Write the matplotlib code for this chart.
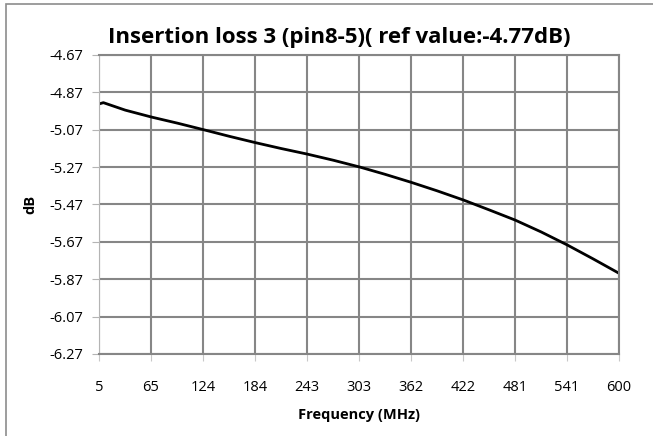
#!/usr/bin/env python3

import matplotlib
matplotlib.use("Agg")
import matplotlib.pyplot as plt
from matplotlib.patches import Rectangle


TITLE = "Insertion loss 3 (pin8-5)( ref value:-4.77dB)"

# frequency (MHz) and insertion loss (dB)
FREQ = [5, 10, 35, 65, 95, 124, 154, 184, 213, 243, 273, 303,
        332, 362, 392, 422, 451, 481, 511, 541, 570, 600]
LOSS = [-4.932, -4.925, -4.965, -5.002, -5.035, -5.069, -5.105, -5.139,
        -5.170, -5.200, -5.233, -5.269, -5.308, -5.351, -5.397, -5.446,
        -5.498, -5.553, -5.617, -5.687, -5.760, -5.838]

X_TICK_LABELS = ["5", "65", "124", "184", "243", "303", "362", "422", "481", "541", "600"]
Y_TICK_LABELS = ["-4.67", "-4.87", "-5.07", "-5.27", "-5.47", "-5.67", "-5.87", "-6.07", "-6.27"]

FONT = "Open Sans"
GRID = "#868686"


def main():
    W, H = 653, 436
    fig = plt.figure(figsize=(W / 100, H / 100), dpi=100)

    # outer chart border (only top and left edges are visible in the picture)
    fig.patches.append(Rectangle((6 / W, -0.1), 1.2, (H - 4) / H + 0.1,
                                 transform=fig.transFigure, fill=False,
                                 edgecolor="#8c8c8c", linewidth=1.2))

    ax = fig.add_axes([99 / W, (H - 354) / H, 520 / W, 299 / H])

    x_ticks = [5 + i * (600 - 5) / 10 for i in range(len(X_TICK_LABELS))]
    y_ticks = [float(v) for v in Y_TICK_LABELS]

    ax.plot(FREQ, LOSS, color="black", linewidth=2.0, solid_capstyle="butt")

    ax.set_xlim(5, 600)
    ax.set_ylim(-6.27, -4.67)
    ax.set_xticks(x_ticks)
    ax.set_xticklabels(X_TICK_LABELS, fontfamily=FONT, fontsize=10.5)
    ax.set_yticks(y_ticks)
    ax.set_yticklabels(Y_TICK_LABELS, fontfamily=FONT, fontsize=10.5)

    ax.grid(True, color=GRID, linewidth=1.5)
    ax.set_axisbelow(True)
    for side in ["top", "right"]:
        ax.spines[side].set_color(GRID)
        ax.spines[side].set_linewidth(1.5)
    ax.spines["left"].set_color("#b4b4b4")
    ax.spines["bottom"].set_color(GRID)
    ax.spines["bottom"].set_linewidth(1.5)
    ax.tick_params(axis="y", direction="out", length=5, color="#b4b4b4", pad=6)
    ax.tick_params(axis="x", direction="out", length=5, color="#c8c8c8", pad=14)

    ax.set_xlabel("Frequency (MHz)", fontfamily=FONT, fontsize=10.5,
                  fontweight="bold", labelpad=9)
    ax.set_ylabel("dB", fontfamily=FONT, fontsize=10.5, fontweight="bold", labelpad=9)

    fig.text(0.52, (H - 38) / H, TITLE, ha="center", va="center",
             fontfamily=FONT, fontsize=16, fontweight="bold")

    fig.savefig("out.png", dpi=100)
    plt.close(fig)


if __name__ == "__main__":
    main()
